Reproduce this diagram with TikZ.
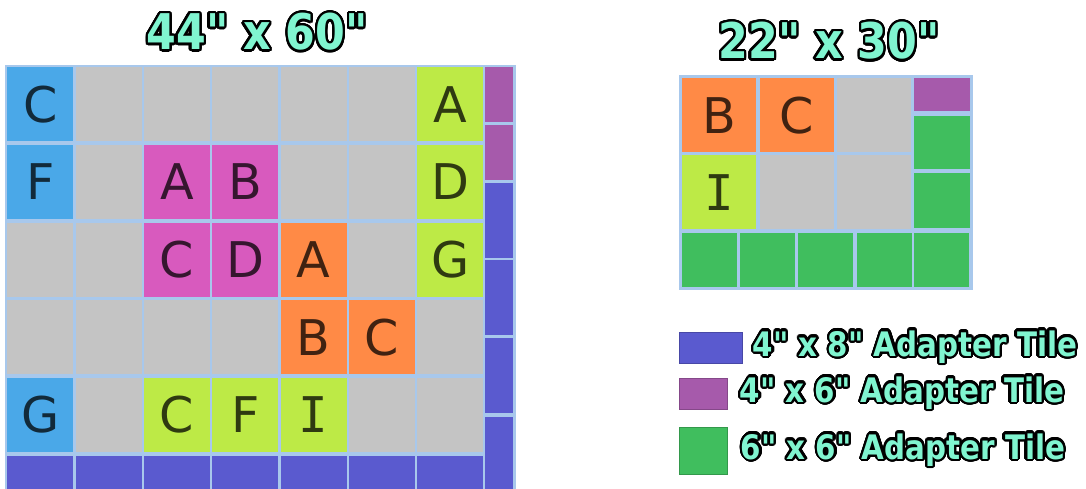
\documentclass[tikz,border=0pt]{standalone}
\usepackage{fontspec}
\usepackage{contour}
\setmainfont{DejaVu Sans}
\newfontfamily\headfont[FakeStretch=0.87]{DejaVu Sans}
\newfontfamily\barfont{DejaVu Sans Mono}
\usetikzlibrary{positioning}

\definecolor{tileblue}{HTML}{4AA8E8}
\definecolor{tilegray}{HTML}{C4C4C4}
\definecolor{tilemag}{HTML}{D85ABE}
\definecolor{tileorange}{HTML}{FF8A46}
\definecolor{tilelime}{HTML}{BDEA46}
\definecolor{adblue}{HTML}{5A5ACF}
\definecolor{adpurple}{HTML}{A65AAB}
\definecolor{adgreen}{HTML}{40BE5E}
\definecolor{gridline}{HTML}{A8C8EC}
\definecolor{mint}{HTML}{80F5D0}

\contourlength{1.3pt}
\contournumber{32}

\begin{document}
\begin{tikzpicture}[x=0.02cm,y=-0.02cm]

\tikzstyle{tile}=[
  rectangle,
  inner sep=0pt,
  anchor=north west
]
\tikzstyle{cell}=[
  tile,
  minimum width=1.32cm,
  minimum height=1.48cm,
  text=black,
  text opacity=0.75,
  font=\fontsize{28}{28}\selectfont
]
\tikzstyle{sqcell}=[cell, minimum width=1.48cm]
\tikzstyle{head}=[
  text=mint,
  font=\headfont\bfseries\fontsize{28}{28}\selectfont
]
\tikzstyle{keytext}=[
  head,
  font=\headfont\bfseries\fontsize{19.2}{19.2}\selectfont
]

\useasboundingbox (0,0) rectangle (1086,489);

% 44" x 60" board
\node[head] (bigtitle) at (257,33) {\contour{black}{44" x 60"}};
\fill[gridline] (5,65) rectangle (516,489);

\foreach \lbl/\clr [count=\i from 0] in {
  C/tileblue, /tilegray, /tilegray, /tilegray, /tilegray, /tilegray, A/tilelime,
  F/tileblue, /tilegray, A/tilemag, B/tilemag, /tilegray, /tilegray, D/tilelime,
  /tilegray, /tilegray, C/tilemag, D/tilemag, A/tileorange, /tilegray, G/tilelime,
  /tilegray, /tilegray, /tilegray, /tilegray, B/tileorange, C/tileorange, /tilegray,
  G/tileblue, /tilegray, C/tilelime, F/tilelime, {\barfont I}/tilelime, /tilegray, /tilegray}
{
  \pgfmathtruncatemacro{\c}{mod(\i,7)}
  \pgfmathtruncatemacro{\r}{div(\i,7)}
  \node[cell, fill=\clr] (big-\i) at ({7+68.3*\c},{67+77.6*\r}) {\lbl};
}

% 4" x 8" strip along the bottom
\foreach \c in {0,...,6}
  \node[tile, fill=adblue, minimum width=1.32cm, minimum height=0.7cm]
    (bigbot-\c) at ({7+68.3*\c},456) {};

% strip along the right side
\node[tile, fill=adpurple, minimum width=0.56cm, minimum height=1.1cm] (bigside-1) at (485,67) {};
\node[tile, fill=adpurple, minimum width=0.56cm, minimum height=1.1cm] (bigside-2) at (485,125) {};
\foreach \y [count=\k from 3] in {183,260,338,417}
  \node[tile, fill=adblue, minimum width=0.56cm, minimum height=1.5cm]
    (bigside-\k) at (485,\y) {};

% 22" x 30" board
\node[head] (smalltitle) at (829,42) {\contour{black}{22" x 30"}};
\fill[gridline] (679,75) rectangle (973,290);

\foreach \lbl/\clr [count=\i from 0] in {
  B/tileorange, C/tileorange, /tilegray,
  {\barfont I}/tilelime, /tilegray, /tilegray}
{
  \pgfmathtruncatemacro{\c}{mod(\i,3)}
  \pgfmathtruncatemacro{\r}{div(\i,3)}
  \node[sqcell, fill=\clr] (small-\i) at ({682+77.3*\c},{78+77*\r}) {\lbl};
}

\node[tile, fill=adpurple, minimum width=1.12cm, minimum height=0.66cm] (smallside-1) at (914,78) {};
\node[tile, fill=adgreen, minimum width=1.12cm, minimum height=1.06cm] (smallside-2) at (914,116) {};
\node[tile, fill=adgreen, minimum width=1.12cm, minimum height=1.1cm] (smallside-3) at (914,173) {};
\foreach \x [count=\k from 1] in {682,740,798,857,914}
  \node[tile, fill=adgreen, minimum width=1.1cm, minimum height=1.08cm]
    (smallbot-\k) at (\x,233) {};

% key
\node[tile, fill=adblue, draw=adblue!80!black, minimum width=1.26cm, minimum height=0.62cm] (key-blue) at (679,332) {};
\node[tile, fill=adpurple, draw=adpurple!80!black, minimum width=0.96cm, minimum height=0.62cm] (key-purple) at (679,378) {};
\node[tile, fill=adgreen, draw=adgreen!80!black, minimum width=0.96cm, minimum height=0.94cm] (key-green) at (679,427) {};

\node[keytext, right=0.08cm of key-blue] (text-blue) {\contour{black}{4" x 8" Adapter Tile}};
\node[keytext, right=0.12cm of key-purple] (text-purple) {\contour{black}{4" x 6" Adapter Tile}};
\node[keytext, right=0.14cm of key-green] (text-green) {\contour{black}{6" x 6" Adapter Tile}};

\end{tikzpicture}
\end{document}
